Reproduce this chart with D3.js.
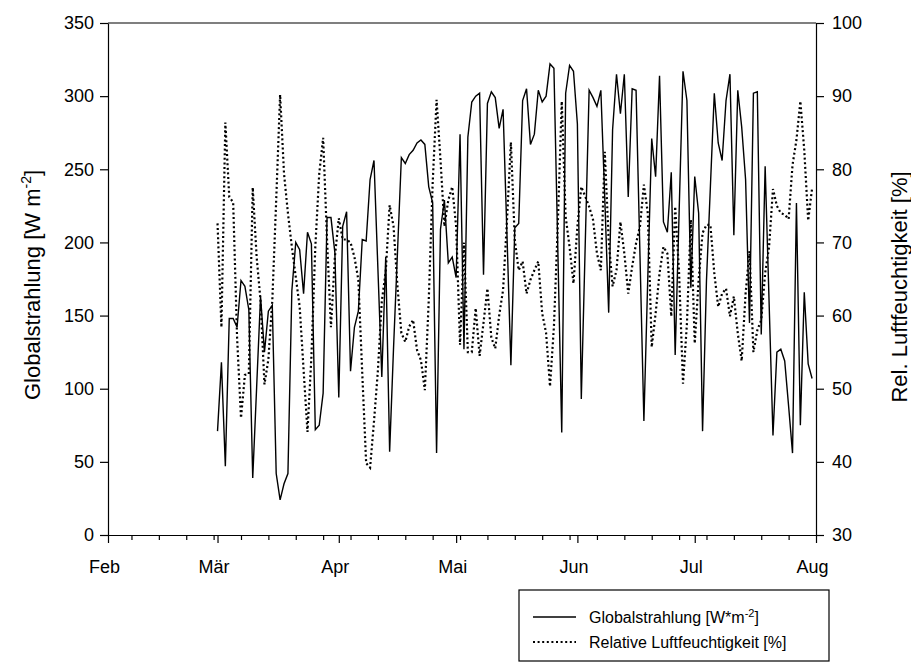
<!DOCTYPE html>
<html>
<head>
<meta charset="utf-8">
<script src="https://cdn.jsdelivr.net/npm/d3@7"></script>
<style>
  body { margin: 0; background: #fff; }
  svg { display: block; font-family: 'Liberation Sans', Arial, sans-serif; }
</style>
</head>
<body>
<div id="chart-area"></div>
<script>
const maxWidth = 911;
const maxHeight = 664;
const margin = { left: 108, right: 95, top: 23, bottom: 129 };
const chartWidth = maxWidth - margin.left - margin.right;
const chartHeight = maxHeight - margin.top - margin.bottom;

// Daily values, 1 March to 31 July
const startDay = new Date(2010, 2, 1);
const globalstrahlung = [
  71, 118, 47, 148, 148, 142, 174, 170, 154, 39, 101, 163, 125, 153, 157, 42, 24, 35, 42, 167,
  200, 195, 165, 207, 199, 72, 75, 97, 217, 217, 193, 94, 211, 221, 112, 142, 153, 202, 201, 243,
  256, 182, 108, 190, 57, 128, 193, 258, 254, 260, 263, 268, 270, 267, 238, 227, 56, 209, 229, 186,
  190, 176, 274, 127, 272, 296, 300, 302, 178, 295, 303, 299, 278, 291, 205, 116, 210, 213, 297, 305,
  267, 274, 304, 296, 300, 322, 319, 195, 70, 302, 321, 317, 281, 93, 198, 304, 299, 293, 304, 230,
  152, 277, 315, 288, 315, 231, 305, 304, 191, 78, 176, 271, 245, 314, 214, 207, 248, 123, 220, 317,
  297, 169, 245, 220, 71, 174, 238, 302, 268, 256, 297, 315, 205, 304, 279, 243, 145, 302, 303, 137,
  252, 160, 68, 125, 127, 119, 88, 56, 227, 75, 166, 117, 107
];
const luftfeuchte = [
  72.6, 58.4, 86.4, 76.2, 75.5, 57, 46, 51.9, 52, 77.5, 68, 62, 50.6, 54, 62, 75.8, 90.2, 79.4, 74, 69.4,
  65.3, 61.2, 52.6, 44.1, 54.4, 69.4, 79.4, 84.3, 70.3, 58.4, 68, 73.3, 70.4, 70.4, 70, 68, 64.9, 52.1, 39.8, 39.2,
  45.5, 52.5, 62, 66, 75.1, 72.2, 64, 57.6, 56.4, 58.5, 59.4, 55.3, 53.9, 49.8, 62.1, 78.1, 89.5, 81.3, 72.2, 75.8,
  77.6, 72.2, 56, 70, 55, 55, 61, 54.5, 59, 63.7, 57, 55.5, 60, 63.5, 73, 83.7, 70.3, 66.2, 67.4, 63,
  64.9, 66.2, 67.4, 60.3, 57.6, 50.3, 58.5, 72.6, 89.3, 73.5, 69.4, 64.4, 72.2, 77.6, 76.3, 74.9, 73.1, 68.5, 66.2, 82.4,
  70.3, 64, 66.2, 72.8, 68.5, 63, 66.7, 69.9, 72.2, 77.9, 74, 55.7, 60.3, 65.8, 69.4, 68.5, 59.9, 74.9, 65.8, 50.7,
  58.9, 73.1, 56.2, 64.9, 71.3, 72.4, 72.4, 65.8, 61.2, 63, 63.7, 59.9, 62.6, 57.6, 53.8, 63, 68.8, 55, 58, 59.4,
  65.8, 69.4, 77.3, 75, 74, 73.8, 73.2, 80.6, 84, 89.3, 82.6, 73, 77.4
];
const monthLabels = ['Feb', 'Mär', 'Apr', 'Mai', 'Jun', 'Jul', 'Aug'];
const leftTicks = [0, 50, 100, 150, 200, 250, 300, 350];
const rightTicks = [30, 40, 50, 60, 70, 80, 90, 100];

const days = globalstrahlung.map((v, i) => d3.timeDay.offset(startDay, i));

const svg = d3.select('#chart-area')
    .append('svg')
    .attr('width', maxWidth)
    .attr('height', maxHeight);

const chartGroup = svg.append('g')
    .attr('transform', `translate(${margin.left}, ${margin.top})`);

// Scales
const x = d3.scaleTime()
    .domain([new Date(2010, 1, 1), new Date(2010, 7, 1)])
    .range([0, chartWidth]);

const yLeft = d3.scaleLinear()
    .domain([0, 350])
    .range([chartHeight, 0]);

const yRight = d3.scaleLinear()
    .domain([30, 100])
    .range([chartHeight, 0]);

// Axes
const monthTicks = d3.timeMonth.range(new Date(2010, 1, 1), new Date(2010, 7, 2));
const weekTicks = d3.timeSunday.range(new Date(2010, 1, 1), new Date(2010, 7, 1))
    .filter((d) => d.getDate() !== 1);

const styleAxis = (g) => {
    g.selectAll('path, line').attr('stroke', '#000').attr('stroke-width', 1.2);
    g.selectAll('text').attr('font-size', '18px').attr('fill', '#000')
        .attr('font-family', "'Liberation Sans', Arial, sans-serif");
};

chartGroup.append('g')
    .attr('transform', `translate(0, ${chartHeight})`)
    .call(d3.axisBottom(x).tickValues(weekTicks).tickSize(5).tickSizeOuter(0).tickFormat(''))
    .call(styleAxis);

chartGroup.append('g')
    .attr('transform', `translate(0, ${chartHeight})`)
    .call(d3.axisBottom(x).tickValues(monthTicks).tickSize(8).tickSizeOuter(0).tickPadding(17)
        .tickFormat((d, i) => monthLabels[i]))
    .call(styleAxis)
    .call((g) => g.selectAll('text').attr('dx', -4));

chartGroup.append('g')
    .call(d3.axisLeft(yLeft).tickValues(leftTicks).tickSize(8).tickSizeOuter(0).tickPadding(6))
    .call(styleAxis);

chartGroup.append('g')
    .attr('transform', `translate(${chartWidth}, 0)`)
    .call(d3.axisRight(yRight).tickValues(rightTicks).tickSize(8).tickSizeOuter(0).tickPadding(8))
    .call(styleAxis);

// top frame
chartGroup.append('line')
    .attr('x1', 0).attr('x2', chartWidth)
    .attr('y1', 0).attr('y2', 0)
    .attr('stroke', '#000').attr('stroke-width', 1.2);

// Lines
const lineLeft = d3.line()
    .x((d, i) => x(days[i]))
    .y((d) => yLeft(d));

const lineRight = d3.line()
    .x((d, i) => x(days[i]))
    .y((d) => yRight(d));

chartGroup.append('path')
    .datum(luftfeuchte)
    .attr('fill', 'none')
    .attr('stroke', '#000')
    .attr('stroke-width', 2.2)
    .attr('stroke-dasharray', '2,2.6')
    .attr('d', lineRight);

chartGroup.append('path')
    .datum(globalstrahlung)
    .attr('fill', 'none')
    .attr('stroke', '#000')
    .attr('stroke-width', 1.4)
    .attr('d', lineLeft);

// Axis labels
const leftLabel = svg.append('text')
    .attr('font-size', '22px')
    .attr('text-anchor', 'middle')
    .attr('transform', `translate(40, ${margin.top + chartHeight / 2 + 6}) rotate(-90)`);
leftLabel.append('tspan').text('Globalstrahlung [W m');
leftLabel.append('tspan').attr('font-size', '14px').attr('dy', -9).text('-2');
leftLabel.append('tspan').attr('dy', 9).text(']');

svg.append('text')
    .attr('font-size', '22px')
    .attr('text-anchor', 'middle')
    .attr('transform', `translate(907, ${margin.top + chartHeight / 2 + 8}) rotate(-90)`)
    .text('Rel. Luftfeuchtigkeit [%]');

// Legend
const legend = svg.append('g')
    .attr('transform', 'translate(519, 590)');

legend.append('rect')
    .attr('width', 310)
    .attr('height', 71)
    .attr('fill', 'none')
    .attr('stroke', '#000')
    .attr('stroke-width', 1.2);

const legendRows = [
    { label: 'Globalstrahlung [W*m', sup: '-2', tail: ']', dash: null, width: 1.4 },
    { label: 'Relative Luftfeuchtigkeit [%]', sup: null, tail: null, dash: '2,2.6', width: 2.2 }
];

legendRows.forEach((row, i) => {
    const g = legend.append('g')
        .attr('transform', `translate(0, ${27 + i * 25})`);
    g.append('line')
        .attr('x1', 14).attr('x2', 57)
        .attr('stroke', '#000')
        .attr('stroke-width', row.width)
        .attr('stroke-dasharray', row.dash);
    const t = g.append('text')
        .attr('x', 70)
        .attr('y', 6)
        .attr('font-size', '16px');
    t.append('tspan').text(row.label);
    if (row.sup) {
        t.append('tspan').attr('font-size', '11px').attr('dy', -6).text(row.sup);
        t.append('tspan').attr('dy', 6).text(row.tail);
    }
});
</script>
</body>
</html>
